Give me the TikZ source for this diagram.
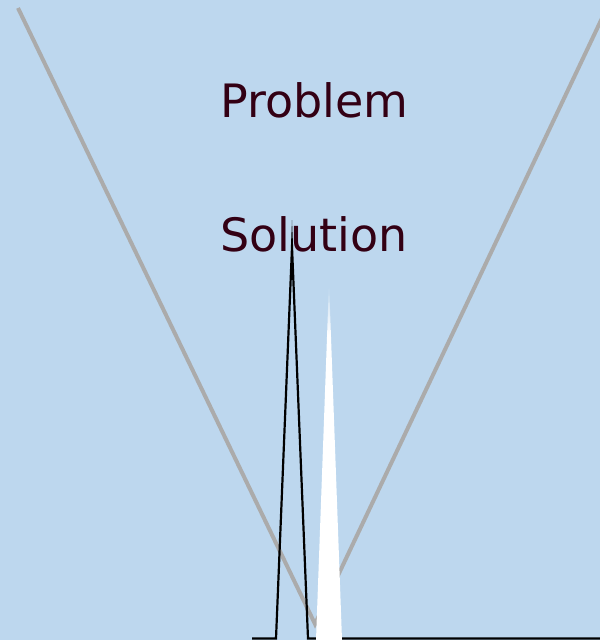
\documentclass[tikz,border=0pt]{standalone}
\usepackage{fontspec}
\setmainfont{DejaVu Sans}
\definecolor{bg}{HTML}{BDD7EE}
\definecolor{vgray}{HTML}{ABABAB}
\definecolor{ink}{HTML}{330014}
\begin{document}
\begin{tikzpicture}[x=1bp,y=-1bp,
  lbl/.style={text=ink,font=\fontsize{46bp}{54bp}\selectfont,inner sep=0pt,anchor=base west},
  vline/.style={draw=vgray,line width=4bp},
  blk/.style={draw=black,line width=2.2bp,line join=miter,miter limit=40}]
\fill[bg] (0,0) rectangle (600,640);
\useasboundingbox (0,0) rectangle (600,640);
% V lines
\coordinate (vl) at (18,8);
\coordinate (vb) at (315,624);
\coordinate (vr) at (604,14);
\draw[vline] (vl) -- (vb) -- (vr);
% texts
\node[lbl] (problem) at (220,118) {Problem};
\node[lbl] (solution) at (220,251) {Solution};
% black spike with baseline
\coordinate (b0) at (252,638.5);
\coordinate (b1) at (276,638.5);
\coordinate (bt) at (292,247);
\coordinate (b2) at (308,638.5);
\coordinate (b3) at (600,638.5);
\draw[blk] (b0) -- (b1) -- (bt) -- (b2) -- (b3);
% white spike
\coordinate (w1) at (316,640);
\coordinate (wt) at (329,282);
\coordinate (w2) at (342,640);
\begin{scope}
\clip (w1) -- (wt) -- (w2) -- cycle;
\shade[top color=bg, bottom color=white] (310,282) rectangle (350,335);
\fill[white] (310,334.5) rectangle (350,640);
\end{scope}
\end{tikzpicture}
\end{document}
